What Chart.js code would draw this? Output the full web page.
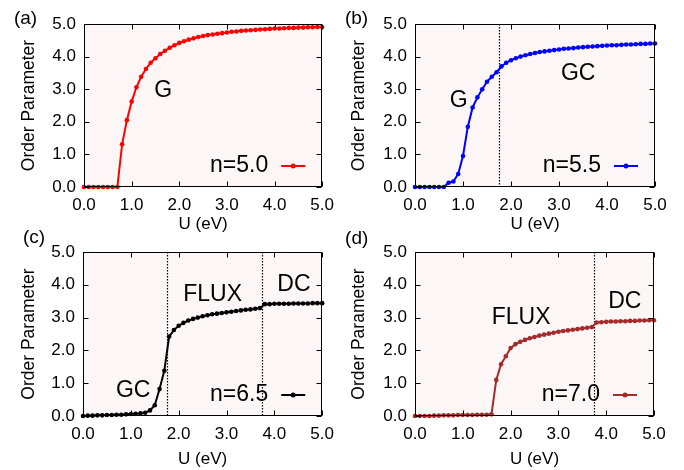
<!DOCTYPE html>
<html>
<head>
<meta charset="utf-8">
<script src="https://cdn.jsdelivr.net/npm/chart.js@4.4.0/dist/chart.umd.min.js"></script>
<style>
  body { margin: 0; background: #fff; }
  #wrap { position: relative; width: 684px; height: 470px; overflow: hidden; }
  #wrap canvas { position: absolute; }
</style>
</head>
<body>
<div id="wrap">
  <canvas id="pa" width="342" height="235" style="left:0;top:0"></canvas>
  <canvas id="pb" width="342" height="235" style="left:342px;top:0"></canvas>
  <canvas id="pc" width="342" height="245" style="left:0;top:225px"></canvas>
  <canvas id="pd" width="342" height="245" style="left:342px;top:225px"></canvas>
</div>
<script>
// U (eV) grid
const uValues = [0.0, 0.1, 0.2, 0.3, 0.4, 0.5, 0.6, 0.7, 0.8, 0.9,
                 1.0, 1.1, 1.2, 1.3, 1.4, 1.5, 1.6, 1.7, 1.8, 1.9,
                 2.0, 2.1, 2.2, 2.3, 2.4, 2.5, 2.6, 2.7, 2.8, 2.9,
                 3.0, 3.1, 3.2, 3.3, 3.4, 3.5, 3.6, 3.7, 3.8, 3.9,
                 4.0, 4.1, 4.2, 4.3, 4.4, 4.5, 4.6, 4.7, 4.8, 4.9, 5.0];

// order parameter for each filling
const orderN50 = [0, 0, 0, 0, 0, 0, 0, 0, 1.31, 2.05,
                  2.62, 3.06, 3.38, 3.62, 3.81, 3.95, 4.08, 4.18, 4.27, 4.35,
                  4.42, 4.47, 4.52, 4.56, 4.60, 4.63, 4.66, 4.68, 4.70, 4.72,
                  4.74, 4.76, 4.77, 4.79, 4.80, 4.81, 4.82, 4.83, 4.84, 4.85,
                  4.86, 4.86, 4.87, 4.88, 4.88, 4.89, 4.89, 4.90, 4.90, 4.91, 4.91];
const orderN55 = [0, 0, 0, 0, 0, 0, 0, 0.13, 0.17, 0.40,
                  0.95, 1.85, 2.44, 2.75, 3.00, 3.23, 3.38, 3.52, 3.70, 3.81,
                  3.89, 3.95, 4.00, 4.04, 4.08, 4.11, 4.14, 4.16, 4.18, 4.20,
                  4.22, 4.24, 4.25, 4.26, 4.28, 4.29, 4.30, 4.31, 4.32, 4.33,
                  4.34, 4.35, 4.35, 4.36, 4.37, 4.37, 4.38, 4.39, 4.39, 4.40, 4.40];
const orderN65 = [0.00, 0.01, 0.01, 0.02, 0.02, 0.03, 0.03, 0.04, 0.04, 0.05,
                  0.06, 0.07, 0.08, 0.10, 0.17, 0.33, 0.82, 1.38, 2.42, 2.62,
                  2.75, 2.84, 2.91, 2.96, 3.00, 3.04, 3.07, 3.10, 3.12, 3.14,
                  3.16, 3.18, 3.20, 3.22, 3.24, 3.25, 3.27, 3.29, 3.41, 3.41,
                  3.42, 3.42, 3.42, 3.42, 3.43, 3.43, 3.43, 3.43, 3.44, 3.44, 3.44];
const orderN70 = [0.00, 0.00, 0.00, 0.00, 0.01, 0.01, 0.02, 0.02, 0.02, 0.03,
                  0.03, 0.03, 0.03, 0.04, 0.04, 0.04, 0.05, 1.10, 1.58, 1.82,
                  2.07, 2.19, 2.26, 2.32, 2.37, 2.41, 2.45, 2.48, 2.51, 2.54,
                  2.57, 2.59, 2.61, 2.63, 2.65, 2.67, 2.69, 2.71, 2.85, 2.86,
                  2.87, 2.88, 2.88, 2.89, 2.89, 2.90, 2.90, 2.91, 2.91, 2.92, 2.92];

// tick values (both axes)
const tickValues = [0, 1, 2, 3, 4, 5];

// phase boundaries (dotted lines)
const boundsA = [];
const boundsB = [1.75];
const boundsC = [1.75, 3.75];
const boundsD = [3.75];

// phase labels [text, U, value]
const labelsA = [['G', 1.66, 2.97]];
const labelsB = [['G', 0.91, 2.65], ['GC', 3.40, 3.47]];
const labelsC = [['GC', 1.05, 0.76], ['FLUX', 2.71, 3.70], ['DC', 4.41, 3.99]];
const labelsD = [['FLUX', 2.22, 2.99], ['DC', 4.39, 3.49]];

const FONT = "'Liberation Sans', Arial, Helvetica, sans-serif";

function makePanel(id, p) {
    const ctx = document.getElementById(id).getContext('2d');
    const pts = uValues.map((u, i) => ({ x: u, y: p.values[i] }));

    // fundo, moldura, ticks para dentro, linhas pontilhadas e textos
    const deco = {
        id: 'deco' + id,
        beforeDraw(chart) {
            const a = chart.chartArea;
            const c = chart.ctx;
            c.save();
            c.fillStyle = '#fcf7f6';
            c.fillRect(a.left, a.top, a.right - a.left, a.bottom - a.top);
            c.restore();
        },
        beforeDatasetsDraw(chart) {
            const a = chart.chartArea;
            const c = chart.ctx;
            const xs = chart.scales.x;
            c.save();
            c.strokeStyle = '#000';
            c.lineWidth = 1.2;
            c.setLineDash([1.5, 1.5]);
            p.bounds.forEach(b => {
                const px = Math.round(xs.getPixelForValue(b)) + 0.5;
                c.beginPath();
                c.moveTo(px, a.top);
                c.lineTo(px, a.bottom);
                c.stroke();
            });
            c.restore();
        },
        afterDraw(chart) {
            const a = chart.chartArea;
            const c = chart.ctx;
            const xs = chart.scales.x, ys = chart.scales.y;
            c.save();
            c.strokeStyle = '#000';
            c.lineWidth = 1;
            const L = Math.round(a.left) + 0.5, R = Math.round(a.right) - 0.5;
            const T = Math.round(a.top) + 0.5, B = Math.round(a.bottom) - 0.5;
            c.strokeRect(L, T, R - L, B - T);
            c.beginPath();
            tickValues.forEach(v => {
                const px = Math.round(xs.getPixelForValue(v)) + 0.5;
                c.moveTo(px, B); c.lineTo(px, B - 5);
                c.moveTo(px, T); c.lineTo(px, T + 5);
                const py = Math.round(ys.getPixelForValue(v)) + 0.5;
                c.moveTo(L, py); c.lineTo(L + 5, py);
                c.moveTo(R, py); c.lineTo(R - 5, py);
            });
            c.stroke();

            // rótulos das fases
            c.fillStyle = '#000';
            c.font = '23px ' + FONT;
            c.textAlign = 'center';
            c.textBaseline = 'middle';
            p.labels.forEach(l => {
                c.fillText(l[0], xs.getPixelForValue(l[1]), ys.getPixelForValue(l[2]));
            });

            // legenda
            const ly = a.bottom - 21;
            c.font = '23px ' + FONT;
            c.textAlign = 'right';
            c.fillText(p.legend, a.right - 54, ly);
            c.strokeStyle = p.color;
            c.lineWidth = 2;
            c.beginPath();
            c.moveTo(a.right - 41, ly);
            c.lineTo(a.right - 17, ly);
            c.stroke();
            c.fillStyle = p.color;
            c.beginPath();
            c.arc(a.right - 29, ly, 2.5, 0, Math.PI * 2);
            c.fill();

            // (a), (b)...
            c.fillStyle = '#000';
            c.font = '19px ' + FONT;
            c.textAlign = 'center';
            c.fillText(p.tag, p.tagX, p.tagY);
            c.restore();
        }
    };

    return new Chart(ctx, {
        type: 'line',
        data: {
            datasets: [{
                data: pts,
                borderColor: p.color,
                backgroundColor: p.color,
                borderWidth: 2,
                pointRadius: 2.3,
                pointBorderWidth: 0,
                pointHoverRadius: 2.3,
                tension: 0,
                clip: 6
            }]
        },
        options: {
            responsive: false,
            animation: false,
            events: [],
            layout: { padding: p.pad },
            plugins: { legend: { display: false }, tooltip: { enabled: false } },
            scales: {
                x: {
                    type: 'linear',
                    min: 0, max: 5,
                    afterFit: s => { s.height = p.xh; },
                    afterBuildTicks: s => { s.ticks = tickValues.map(v => ({ value: v })); },
                    ticks: {
                        padding: 8,
                        color: '#000',
                        font: { family: FONT, size: 17 },
                        callback: v => v.toFixed(1),
                        maxRotation: 0
                    },
                    grid: { display: false, drawTicks: false },
                    border: { display: false },
                    title: { display: true, text: 'U (eV)', color: '#000', font: { family: FONT, size: 17 }, padding: 0 }
                },
                y: {
                    min: 0, max: 5,
                    afterFit: s => { s.width = p.yw; },
                    afterBuildTicks: s => { s.ticks = tickValues.map(v => ({ value: v })); },
                    ticks: {
                        padding: 8,
                        color: '#000',
                        font: { family: FONT, size: 17 },
                        callback: v => v.toFixed(1)
                    },
                    grid: { display: false, drawTicks: false },
                    border: { display: false },
                    title: { display: true, text: 'Order Parameter', color: '#000', font: { family: FONT, size: 17.5 }, padding: 0 }
                }
            }
        },
        plugins: [deco]
    });
}

makePanel('pa', { values: orderN50, color: '#ff0000', legend: 'n=5.0', bounds: boundsA, labels: labelsA,
    pad: { left: 19, right: 19, top: 24, bottom: 0 }, yw: 65, xh: 48, tag: '(a)', tagX: 25.5, tagY: 18.5 });
makePanel('pb', { values: orderN55, color: '#0000ff', legend: 'n=5.5', bounds: boundsB, labels: labelsB,
    pad: { left: 7, right: 29, top: 24, bottom: 0 }, yw: 66, xh: 48, tag: '(b)', tagX: 14.5, tagY: 18.5 });
makePanel('pc', { values: orderN65, color: '#000000', legend: 'n=6.5', bounds: boundsC, labels: labelsC,
    pad: { left: 19, right: 19, top: 27, bottom: 0 }, yw: 64, xh: 54, tag: '(c)', tagX: 34, tagY: 13 });
makePanel('pd', { values: orderN70, color: '#a52a2a', legend: 'n=7.0', bounds: boundsD, labels: labelsD,
    pad: { left: 7, right: 30, top: 27, bottom: 0 }, yw: 66, xh: 54, tag: '(d)', tagX: 14.7, tagY: 14 });
</script>
</body>
</html>
